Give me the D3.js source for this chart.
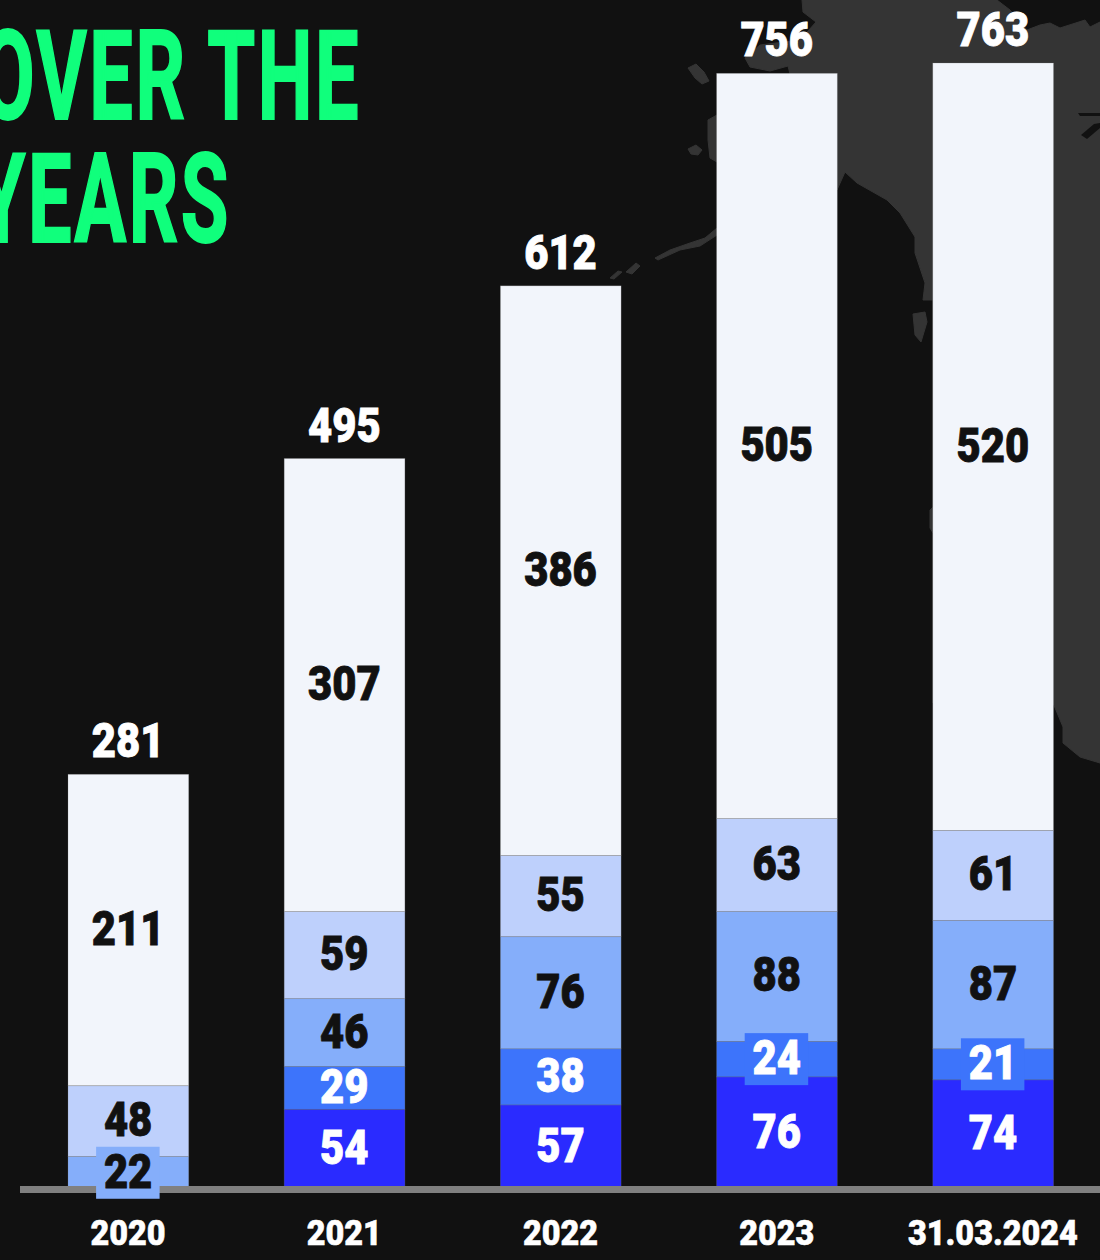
<!DOCTYPE html>
<html>
<head>
<meta charset="utf-8">
<script src="https://cdn.jsdelivr.net/npm/d3@7"></script>
<style>
  html, body { margin: 0; padding: 0; background: #111111; overflow: hidden; }
  text { font-family: Roboto, sans-serif; }
  .domain { display: none; }
</style>
</head>
<body>
<svg id="chart" width="1100" height="1260"></svg>
<script>
const categories = ["2020", "2021", "2022", "2023", "31.03.2024"];
const totals = [281, 495, 612, 756, 763];
// stacked bottom to top, null where the band was not there yet
const bandA = [null, 54, 57, 76, 74];
const bandB = [null, 29, 38, 24, 21];
const bandC = [22, 46, 76, 88, 87];
const bandD = [48, 59, 55, 63, 61];
const bandE = [211, 307, 386, 505, 520];
const bands = [bandA, bandB, bandC, bandD, bandE];
const bandColors = ["#2a2bff", "#3d74fb", "#85aefa", "#bed0fc", "#f2f5fb"];
const labelColors = ["#ffffff", "#ffffff", "#111111", "#111111", "#111111"];
const titleLines = ["OVER THE", "YEARS"];

const svg = d3.select("#chart");

// background map, only decoration behind the bars
const mapShapes = [
  "M802,0 L803,12 L816,22 L800,40 L760,45 L745,58 L750,67 L770,71 L788,66 L790,74 L837,74 L837,190 L845,172 L857,183 L887,200 L900,213 L915,237 L915,253 L925,283 L923,300 L933,300 L933,703 L1053,703 L1063,727 L1063,743 L1080,757 L1100,763 L1100,22 L1090,27 L1085,20 L1060,28 L1050,23 L1040,25 L1027,30 L1010,10 L997,0 Z",
  "M688,68 L696,64 L704,72 L709,81 L702,84 L695,78 Z",
  "M688,149 L696,145 L702,150 L698,155 L691,154 Z",
  "M708,120 L717,115 L717,162 L710,158 L708,140 Z",
  "M655,258 L670,250 L690,243 L705,238 L717,228 L717,235 L700,246 L680,250 L658,260 Z",
  "M626,272 L636,263 L640,266 L632,274 Z",
  "M610,278 L618,271 L622,272 L614,279 Z",
  "M913,314 L925,312 L927,322 L921,342 L915,335 Z",
  "M930,510 L933,507 L933,533 L930,528 Z"
];
svg.append("g")
  .selectAll("path")
  .data(mapShapes)
  .enter()
  .append("path")
  .attr("d", (d) => d)
  .attr("fill", "#343434")
  .attr("stroke", "#343434")
  .attr("stroke-linejoin", "round");

// small dark lakes top right
svg.append("g")
  .selectAll("path")
  .data(["M1078,113 L1100,113 L1100,116 L1080,116 Z", "M1081,135 L1094,124 L1100,123 L1100,128 L1087,139 Z"])
  .enter()
  .append("path")
  .attr("d", (d) => d)
  .attr("fill", "#111111");

const x = d3.scaleBand()
  .domain(categories)
  .range([20, 1101])
  .paddingInner(0.444)
  .paddingOuter(0.222);

const y = d3.scaleLinear()
  .domain([0, 763])
  .range([1189, 63]);

const rows = categories.map((cat, i) => {
  let base = 0;
  let segs = [];
  bands.forEach((band, b) => {
    if (band[i] != null) {
      segs.push({ cat, b, value: band[i], y0: base, y1: base + band[i] });
      base += band[i];
    }
  });
  return segs;
}).flat();

svg.append("g")
  .selectAll("rect")
  .data(rows)
  .enter()
  .append("rect")
  .attr("x", (d) => x(d.cat))
  .attr("width", x.bandwidth() + 0.5)
  .attr("y", (d) => y(d.y1))
  .attr("height", (d) => y(d.y0) - y(d.y1))
  .attr("fill", (d) => bandColors[d.b])
  .attr("stroke", "#808080")
  .attr("stroke-opacity", 0.3)
  .attr("stroke-width", 0.8);

// baseline sits over the foot of the bars
svg.append("rect")
  .attr("x", 20)
  .attr("y", 1186)
  .attr("width", 1080)
  .attr("height", 7)
  .attr("fill", "#808080");

// thin bands get a tab behind the number, the number does not fit otherwise
const labelGroup = svg.append("g");
const labels = labelGroup.selectAll("g")
  .data(rows)
  .enter()
  .append("g")
  .attr("transform", (d) => `translate(${x(d.cat) + x.bandwidth() / 2},${(y(d.y0) + y(d.y1)) / 2})`);

labels.filter((d) => d.value < 25)
  .append("rect")
  .attr("x", -32)
  .attr("y", -26)
  .attr("width", 63.5)
  .attr("height", 52)
  .attr("fill", (d) => bandColors[d.b]);

labels.append("text")
  .attr("transform", "scale(0.87,1)")
  .attr("text-anchor", "middle")
  .attr("y", 15)
  .attr("font-size", 48)
  .attr("font-weight", 900)
  .attr("fill", (d) => labelColors[d.b])
  .attr("stroke", (d) => labelColors[d.b])
  .attr("stroke-width", 0.9)
  .text((d) => d.value);

svg.append("g")
  .selectAll("g")
  .data(categories)
  .enter()
  .append("g")
  .attr("transform", (d, i) => `translate(${x(d) + x.bandwidth() / 2},${y(totals[i]) - 17})`)
  .append("text")
  .attr("transform", "scale(0.87,1)")
  .attr("text-anchor", "middle")
  .attr("font-size", 48)
  .attr("font-weight", 900)
  .attr("fill", "#ffffff")
  .attr("stroke", "#ffffff")
  .attr("stroke-width", 0.9)
  .text((d, i) => totals[i]);

const xAxis = svg.append("g")
  .attr("transform", "translate(0,1193)")
  .call(d3.axisBottom(x).tickSize(0).tickPadding(0));

xAxis.selectAll("text")
  .attr("y", 0)
  .attr("dy", 0)
  .attr("transform", "translate(0,52) scale(0.9,1)")
  .attr("font-size", 36)
  .attr("font-weight", 900)
  .attr("fill", "#ffffff")
  .attr("stroke", "#ffffff")
  .attr("stroke-width", 0.6);

// title runs off the left edge in the original crop
svg.append("g")
  .selectAll("g")
  .data(titleLines)
  .enter()
  .append("g")
  .attr("transform", (d, i) => `translate(${i == 0 ? 361 : 231},${119 + i * 123})`)
  .append("text")
  .attr("transform", "scale(0.62,1)")
  .attr("text-anchor", "end")
  .attr("font-size", 125)
  .attr("font-weight", 700)
  .attr("letter-spacing", 4)
  .attr("fill", "#10ff7c")
  .attr("stroke", "#10ff7c")
  .attr("stroke-width", 2)
  .text((d) => d);
</script>
</body>
</html>
